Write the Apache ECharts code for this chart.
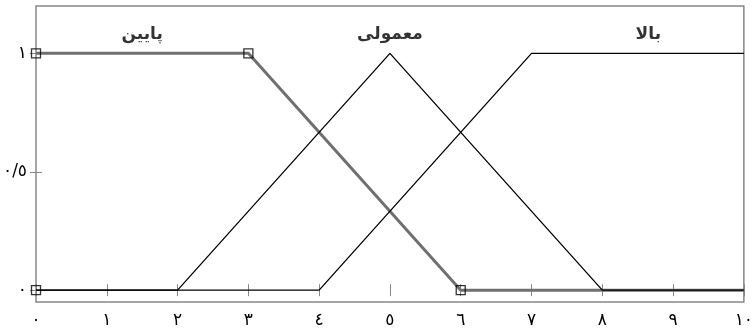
<!DOCTYPE html>
<html>
<head>
<meta charset="utf-8">
<script src="https://cdn.jsdelivr.net/npm/echarts@6/dist/echarts.min.js"></script>
<style>
  html, body { margin: 0; padding: 0; background: #fff; }
  #chart { width: 756px; height: 332px; }
</style>
</head>
<body>
<div id="chart"></div>
<script>
// محور افقی و عمودی
const xTicks = [0, 1, 2, 3, 4, 5, 6, 7, 8, 9, 10];
const xTickLabels = ['٠', '١', '٢', '٣', '٤', '٥', '٦', '٧', '٨', '٩', '١٠'];
const yTicks = [0, 0.5, 1];
const yTickLabels = ['٠', '٠/٥', '١'];

// توابع عضویت (نقاط شکست)
const lowMF = [[0, 1], [3, 1], [6, 0], [10, 0]];
const mediumMF = [[0, 0], [2, 0], [5, 1], [8, 0], [10, 0]];
const highMF = [[0, 0], [4, 0], [7, 1], [10, 1]];
const lowHandles = [[0, 1], [3, 1], [6, 0], [0, 0]];

// برچسب نام‌ها
const mfNames = ['پایین', 'معمولی', 'بالا'];
const mfNamePos = [[1.5, 1.08], [5, 1.08], [8.65, 1.08]];

const chart = echarts.init(document.getElementById('chart'));
const font = 'DejaVu Sans';

const tickLabel = (values, labels) => (v) => {
  const i = values.findIndex(t => Math.abs(t - v) < 1e-6);
  return i >= 0 ? labels[i] : '';
};

chart.setOption({
  animation: false,
  backgroundColor: '#fff',
  grid: {
    left: 36, right: 7, top: 6, bottom: 30,
    show: true, borderColor: '#888', borderWidth: 1.5
  },
  xAxis: [
    {
      type: 'value', min: 0, max: 10, interval: 1,
      axisLine: { show: false },
      splitLine: { show: false },
      axisTick: { show: true, inside: true, length: 6, lineStyle: { color: '#888' } },
      axisLabel: {
        margin: 10, color: '#000', fontSize: 17, fontFamily: font,
        formatter: tickLabel(xTicks, xTickLabels)
      }
    },
    {
      type: 'value', position: 'top', min: 0, max: 10, interval: 1,
      axisLine: { show: false },
      splitLine: { show: false },
      axisTick: { show: true, inside: true, length: 6, lineStyle: { color: '#888' } },
      axisLabel: { show: false }
    }
  ],
  yAxis: [
    {
      type: 'value', min: -0.05, max: 1.2,
      axisLine: { show: false },
      splitLine: { show: false },
      axisTick: { show: true, inside: true, length: 6, customValues: yTicks, lineStyle: { color: '#888' } },
      axisLabel: {
        margin: 9, color: '#000', fontSize: 17, fontFamily: font,
        customValues: yTicks,
        formatter: tickLabel(yTicks, yTickLabels)
      }
    },
    {
      type: 'value', position: 'right', min: -0.05, max: 1.2,
      axisLine: { show: false },
      splitLine: { show: false },
      axisTick: { show: true, inside: true, length: 6, customValues: yTicks, lineStyle: { color: '#888' } },
      axisLabel: { show: false }
    }
  ],
  series: [
    {
      name: mfNames[0], type: 'line', data: lowMF, z: 2,
      showSymbol: false,
      lineStyle: { color: '#707070', width: 3 }
    },
    {
      name: mfNames[1], type: 'line', data: mediumMF, z: 3,
      showSymbol: false,
      lineStyle: { color: '#000', width: 1.3 }
    },
    {
      name: mfNames[2], type: 'line', data: highMF, z: 3,
      showSymbol: false,
      lineStyle: { color: '#000', width: 1.3 }
    },
    {
      type: 'scatter', data: lowHandles, z: 4,
      symbol: 'rect', symbolSize: 9,
      itemStyle: { color: 'rgba(0,0,0,0)', borderColor: '#000', borderWidth: 1.3 }
    },
    {
      type: 'scatter', z: 5,
      data: mfNamePos.map((p, i) => ({ value: p, name: mfNames[i] })),
      symbolSize: 0,
      label: {
        show: true, position: 'inside', formatter: '{b}',
        color: '#000', fontSize: 17, fontWeight: 'bold', fontFamily: font
      }
    }
  ]
});
</script>
</body>
</html>
